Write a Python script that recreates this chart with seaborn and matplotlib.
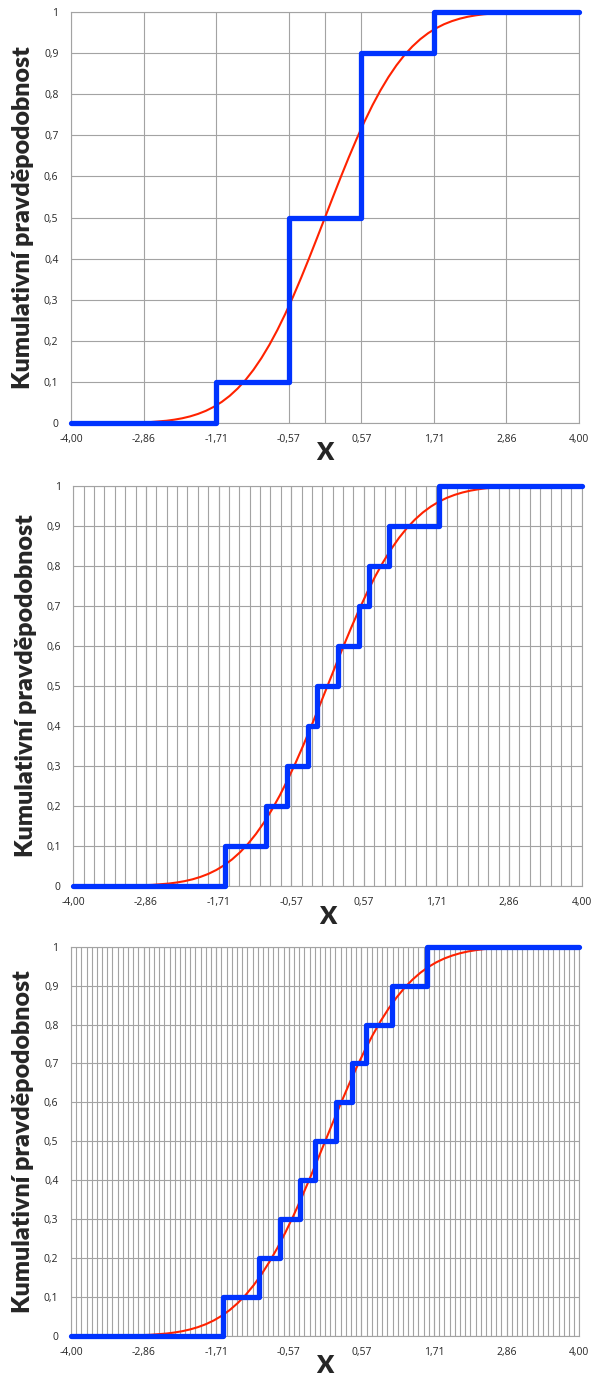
import numpy as np
import matplotlib
matplotlib.use("Agg")
import matplotlib.pyplot as plt
import seaborn as sns

# Popisky os
x_ticks = [-4.0, -2.857, -1.714, -0.571, 0.571, 1.714, 2.857, 4.0]
x_tick_labels = ["-4,00", "-2,86", "-1,71", "-0,57", "0,57", "1,71", "2,86", "4,00"]
y_ticks = [0.0, 0.1, 0.2, 0.3, 0.4, 0.5, 0.6, 0.7, 0.8, 0.9, 1.0]
y_tick_labels = ["0", "0,1", "0,2", "0,3", "0,4", "0,5", "0,6", "0,7", "0,8", "0,9", "1"]

# Teoretická distribuční funkce
cdf_x = [-4.0, -3.75, -3.5, -3.25, -3.0, -2.75, -2.5, -2.375, -2.25, -2.125, -2.0,
         -1.875, -1.75, -1.625, -1.5, -1.375, -1.25, -1.125, -1.0, -0.875, -0.75,
         -0.625, -0.5, -0.375, -0.25, -0.125, 0.0, 0.125, 0.25, 0.375, 0.5, 0.625,
         0.75, 0.875, 1.0, 1.125, 1.25, 1.375, 1.5, 1.625, 1.75, 1.875, 2.0, 2.125,
         2.25, 2.375, 2.5, 2.75, 3.0, 3.25, 3.5, 3.75, 4.0]
cdf_y = [0.0, 0.0001, 0.0002, 0.0006, 0.0013, 0.003, 0.0062, 0.0088, 0.0122, 0.0168, 0.0228,
         0.0304, 0.0401, 0.0521, 0.0668, 0.0846, 0.1056, 0.1303, 0.1587, 0.1908, 0.2266,
         0.2660, 0.3085, 0.3538, 0.4013, 0.4503, 0.5, 0.5497, 0.5987, 0.6462, 0.6915, 0.7340,
         0.7734, 0.8092, 0.8413, 0.8697, 0.8944, 0.9154, 0.9332, 0.9479, 0.9599, 0.9696, 0.9772, 0.9832,
         0.9878, 0.9912, 0.9938, 0.997, 0.9987, 0.9994, 0.9998, 0.9999, 1.0]

# Empirické distribuční funkce - hrubé, střední a jemné dělení
steps_1_x = [-1.71, -0.57, 0.57, 1.71]
steps_1_y = [0.1, 0.5, 0.9, 1.0]
steps_2_x = [-1.61, -0.97, -0.63, -0.30, -0.17, 0.16, 0.49, 0.65, 0.96, 1.76]
steps_2_y = [0.1, 0.2, 0.3, 0.4, 0.5, 0.6, 0.7, 0.8, 0.9, 1.0]
steps_3_x = [-1.61, -1.04, -0.71, -0.40, -0.16, 0.17, 0.42, 0.64, 1.06, 1.61]
steps_3_y = [0.1, 0.2, 0.3, 0.4, 0.5, 0.6, 0.7, 0.8, 0.9, 1.0]

sns.set_style("white")
plt.rcParams["font.family"] = ["Open Sans", "DejaVu Sans"]

fig = plt.figure(figsize=(5.92, 13.78), dpi=100)

panels = [
    # (pozice os, schody x, schody y, vedlejší mřížka, x label y)
    ([0.1199, 0.6928, 0.8581, 0.2987], steps_1_x, steps_1_y, [0.0], -0.045),
    ([0.1238, 0.3570, 0.8588, 0.2905], steps_2_x, steps_2_y, list(-4 + np.arange(1, 49) * 8 / 49), -0.05),
    ([0.1199, 0.0305, 0.8586, 0.2825], steps_3_x, steps_3_y, list(-4 + np.arange(1, 98) * 8 / 98), -0.05),
]

grid_col = "#a3a3a3"

for pos, sx, sy, minor, xl_y in panels:
    ax = fig.add_axes(pos)

    # Teoretická křivka
    sns.lineplot(x=cdf_x, y=cdf_y, ax=ax, color="#ff2200", linewidth=1.5, zorder=3)

    # Schodovitá empirická funkce
    step_x = [-4.0] + sx + [4.0]
    step_y = [0.0] + sy + [sy[-1]]
    sns.lineplot(x=step_x, y=step_y, ax=ax, color="#0033ff", linewidth=3.8,
                 drawstyle="steps-post", zorder=4, clip_on=False)

    ax.set_xlim(-4, 4)
    ax.set_ylim(0, 1)
    ax.set_xticks(x_ticks)
    ax.set_xticklabels(x_tick_labels)
    ax.set_xticks(minor, minor=True)
    ax.set_yticks(y_ticks)
    ax.set_yticklabels(y_tick_labels)
    ax.tick_params(axis="both", which="both", length=0, labelsize=7.5, labelcolor="#262626")
    ax.tick_params(axis="x", pad=8)
    ax.tick_params(axis="y", pad=9)

    ax.grid(True, which="both", color=grid_col, linewidth=0.8)
    ax.set_axisbelow(True)
    for sp in ax.spines.values():
        sp.set_color(grid_col)
        sp.set_linewidth(0.8)

    ax.set_xlabel("X", fontsize=18, fontweight="heavy", family=["Lato", "DejaVu Sans"])
    ax.xaxis.set_label_coords(0.5, xl_y)
    ax.set_ylabel("Kumulativní pravděpodobnost", fontsize=18, fontweight="heavy",
                  family=["Lato", "DejaVu Sans"])
    ax.yaxis.set_label_coords(-0.072, 0.5)

fig.savefig("out.png", dpi=100)
